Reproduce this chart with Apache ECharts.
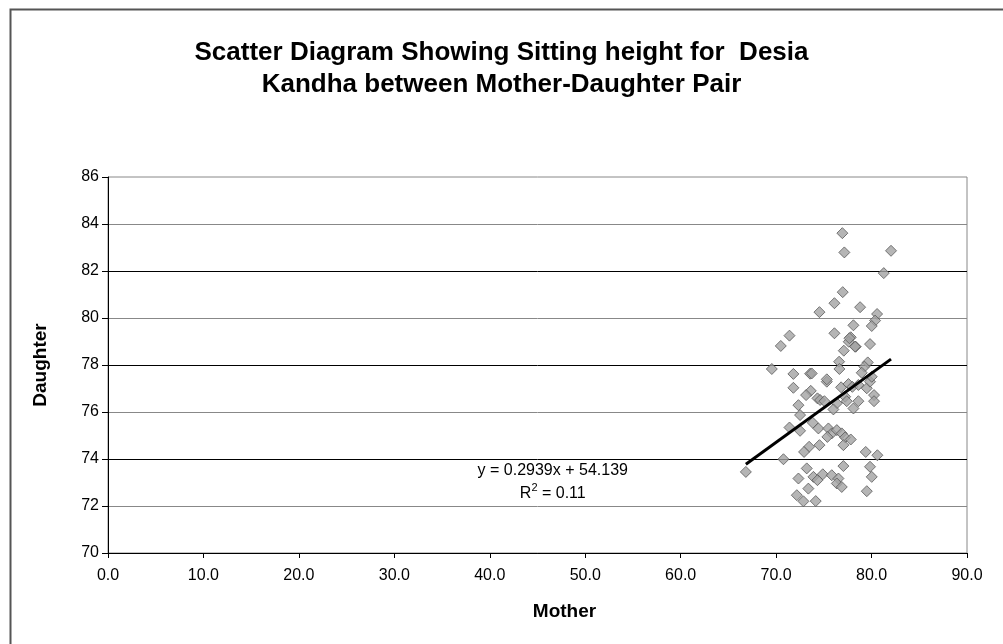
<!DOCTYPE html>
<html>
<head>
<meta charset="utf-8">
<script src="https://cdn.jsdelivr.net/npm/echarts@6/dist/echarts.min.js"></script>
<style>
html,body{margin:0;padding:0;background:#fff;}
#chart{width:1003px;height:644px;}
</style>
</head>
<body>
<div id="chart"></div>
<script>
var titleLines = ["Scatter Diagram Showing Sitting height for  Desia", "Kandha between Mother-Daughter Pair"];
var xAxisName = "Mother";
var yAxisName = "Daughter";
var motherValues = [76.94,77.15,82.04,81.28,76.98,76.11,74.54,78.80,80.58,80.37,80.02,78.10,76.11,77.82,77.61,78.34,79.84,71.40,70.49,77.09,
69.55,71.81,73.56,76.60,76.63,79.60,79.25,78.97,71.81,75.31,73.63,73.14,76.81,77.58,77.99,78.62,79.50,79.84,80.02,80.26,
80.26,74.33,74.61,75.06,77.23,77.40,78.62,78.10,72.34,72.51,76.36,76.00,71.40,72.51,73.84,74.43,75.48,75.83,76.36,76.88,
77.23,77.82,75.37,77.05,74.54,73.46,72.93,70.77,66.83,79.39,80.61,77.05,79.84,80.02,79.50,73.21,72.34,73.91,74.89,74.33,
75.83,76.53,76.36,76.88,73.38,72.17,72.86,74.15,73.73,75.31,77.68,78.27];
var daughterValues = [83.61,82.79,82.86,81.91,81.10,80.63,80.25,80.46,80.17,79.89,79.66,79.69,79.35,79.18,78.99,78.78,78.89,79.25,78.81,78.61,
77.83,77.62,77.63,78.14,77.83,78.11,77.93,77.67,77.03,77.29,76.90,76.72,77.05,77.19,77.07,77.15,77.01,77.29,77.50,76.72,
76.46,76.58,76.51,76.46,76.65,76.46,76.46,76.15,76.29,75.87,76.37,76.11,75.34,75.20,75.54,75.30,75.30,75.09,75.23,75.09,
74.92,74.83,74.94,74.59,74.59,74.52,74.30,73.99,73.45,74.30,74.16,73.70,73.67,73.24,72.63,73.60,73.17,73.24,73.35,73.10,
73.31,73.17,72.96,72.81,72.74,72.46,72.20,72.21,77.64,77.39,79.14,78.78];
var trendSlope = 0.2939;
var trendIntercept = 54.139;
var trendLabel = ["y = 0.2939x + 54.139", "R{sup|2} = 0.11"];
var xTicks = {min: 0, max: 90, interval: 10};
var yTicks = {min: 70, max: 86, interval: 2};

var points = motherValues.map(function(m, i){ return [m, daughterValues[i]]; });
var xMin = Math.min.apply(null, motherValues), xMax = Math.max.apply(null, motherValues);
var trend = [[xMin, trendSlope*xMin + trendIntercept], [xMax, trendSlope*xMax + trendIntercept]];

var chart = echarts.init(document.getElementById('chart'), null, {renderer: 'canvas'});
var font = '"Liberation Sans", Arial, sans-serif';
chart.setOption({
  backgroundColor: '#fff',
  animation: false,
  title: {
    text: titleLines.join('\n'),
    left: 'center', top: 32,
    textStyle: {fontFamily: font, fontSize: 26, fontWeight: 'bold', color: '#000', lineHeight: 32}
  },
  grid: {left: 108, right: 36, top: 177, bottom: 91, show: true, borderColor: '#888', borderWidth: 1, backgroundColor: '#fff'},
  xAxis: {
    type: 'value', min: xTicks.min, max: xTicks.max, interval: xTicks.interval,
    name: xAxisName, nameLocation: 'middle', nameGap: 49,
    nameTextStyle: {fontFamily: font, fontSize: 19, fontWeight: 'bold', color: '#000', padding: [0, 0, 0, 54]},
    axisLine: {show: true, lineStyle: {color: '#000', width: 1}},
    axisTick: {show: true, inside: false, length: 5, lineStyle: {color: '#000'}},
    axisLabel: {fontFamily: font, fontSize: 16, color: '#000', margin: 15, formatter: function(v){ return v.toFixed(1); }},
    splitLine: {show: false}
  },
  yAxis: {
    type: 'value', min: yTicks.min, max: yTicks.max, interval: yTicks.interval,
    name: yAxisName, nameLocation: 'middle', nameGap: 58, nameRotate: 90,
    nameTextStyle: {fontFamily: font, fontSize: 19, fontWeight: 'bold', color: '#000'},
    axisLine: {show: true, lineStyle: {color: '#000', width: 1}},
    axisTick: {show: true, length: 6, lineStyle: {color: '#000'}},
    axisLabel: {fontFamily: font, fontSize: 16, color: '#000', margin: 9},
    splitLine: {show: true, showMaxLine: false, lineStyle: {color: ['#000', '#888'], width: 1}}
  },
  series: [
    {
      type: 'scatter', data: points, symbol: 'diamond', symbolSize: 11,
      itemStyle: {color: '#a3a3a3', borderColor: '#5a5a5a', borderWidth: 1},
      z: 3
    },
    {
      type: 'line', data: trend, symbol: 'none',
      lineStyle: {color: '#000', width: 3},
      z: 4
    }
  ]
});
// place the trendline annotation using the chart's own coordinate system
var p = chart.convertToPixel({gridIndex: 0}, [46.6, 74]);
chart.setOption({
  graphic: [
    {type: 'rect', left: 8, top: 7, shape: {width: 1100, height: 700}, style: {fill: 'none', stroke: '#555', lineWidth: 2}, silent: true},
    {type: 'text', x: p[0], y: p[1],
     style: {text: trendLabel[0] + '\n' + trendLabel[1], font: '16px "Liberation Sans", Arial, sans-serif', fill: '#000', align: 'center', lineHeight: 23,
       rich: {sup: {fontSize: 11, verticalAlign: 'top', padding: [0,0,6,0], fill: '#000'}}},
     silent: true}
  ]
});
</script>
</body>
</html>
